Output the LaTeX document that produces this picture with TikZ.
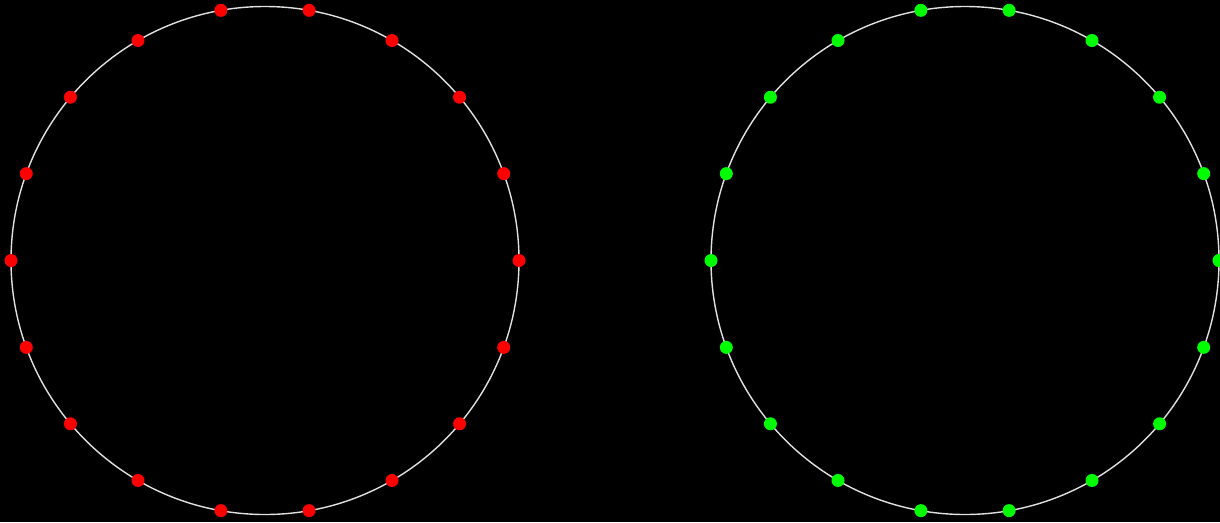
\documentclass[tikz,border=0pt]{standalone}
\usepackage{tikz}
\usetikzlibrary{positioning,calc}
\definecolor{RingGray}{HTML}{E0E0E0}
\definecolor{DotRed}{HTML}{FF0000}
\definecolor{DotGreen}{HTML}{00FF00}
\tikzset{
    ring/.style={draw=RingGray, line width=0.8pt},
    dot/.style={circle, inner sep=0pt, minimum size=0.26cm}
}

\begin{document}
\begin{tikzpicture}[x=0.02cm, y=-0.02cm]
    % Background and frame
    \fill[black] (0,0) rectangle (1220,522);
    \useasboundingbox (0,0) rectangle (1220,522);

    % Centres of the two rings
    \coordinate (leftc) at (265,260.5);
    \coordinate (rightc) at (965,260.5);

    % Left ring
    \draw[ring] (leftc) circle[radius=254];
    \foreach \i in {0,...,17}
        \node[dot, fill=DotRed] (l\i) at ($(leftc)+({20*\i}:254 and -254)$) {};

    % Right ring
    \draw[ring] (rightc) circle[radius=254];
    \foreach \i in {0,...,17}
        \node[dot, fill=DotGreen] (r\i) at ($(rightc)+({20*\i}:254 and -254)$) {};

\end{tikzpicture}
\end{document}
